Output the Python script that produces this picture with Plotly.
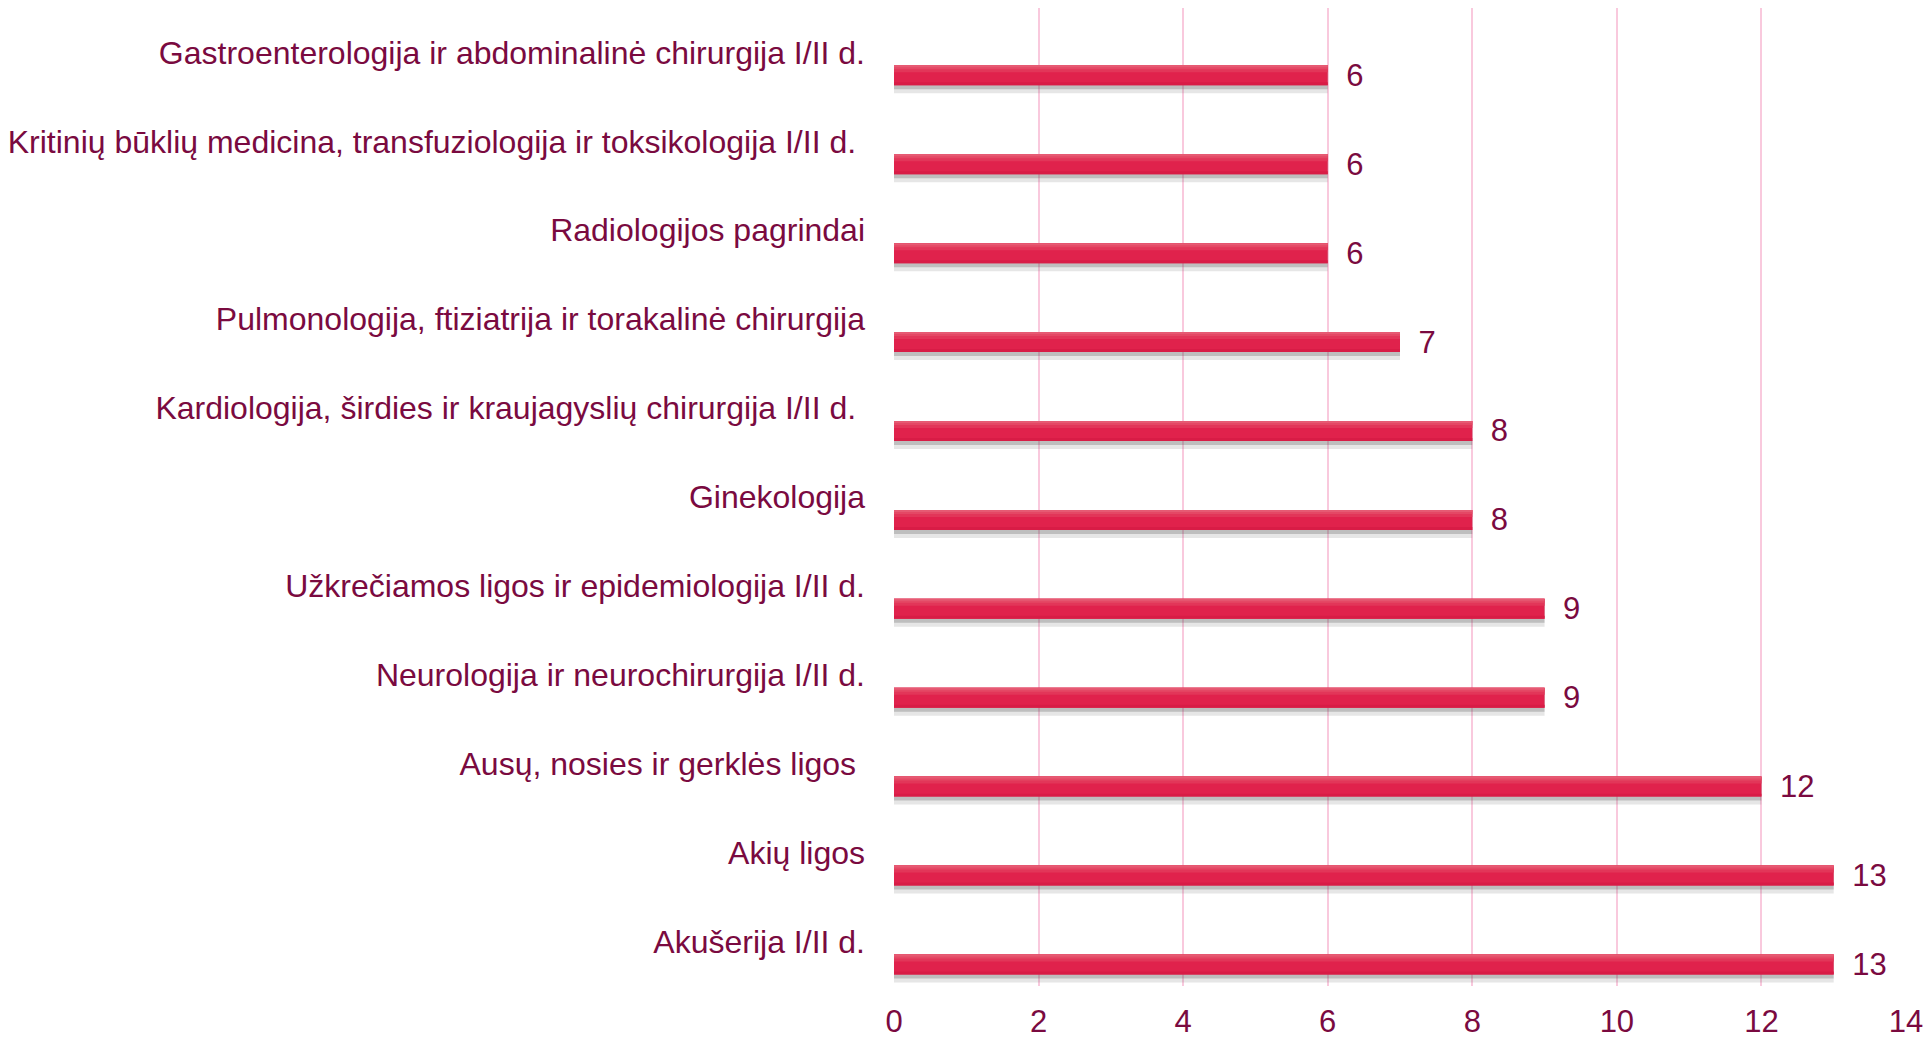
import plotly.graph_objects as go

categories = [
    "Gastroenterologija ir abdominalinė chirurgija I/II d.",
    "Kritinių būklių medicina, transfuziologija ir toksikologija I/II d.\u00a0",
    "Radiologijos pagrindai",
    "Pulmonologija, ftiziatrija ir torakalinė chirurgija",
    "Kardiologija, širdies ir kraujagyslių chirurgija I/II d.\u00a0",
    "Ginekologija",
    "Užkrečiamos ligos ir epidemiologija I/II d.",
    "Neurologija ir neurochirurgija I/II d.",
    "Ausų, nosies ir gerklės ligos\u00a0",
    "Akių ligos",
    "Akušerija I/II d.",
]
values = [6, 6, 6, 7, 8, 8, 9, 9, 12, 13, 13]
x_ticks = [0, 2, 4, 6, 8, 10, 12, 14]

TEXT = "#7a0a40"
BAR = "#e0224c"
GRID = "#f9c9dd"
FONT = "Liberation Sans, Arial, sans-serif"

pos = list(range(len(categories)))
PX = 1 / 89.0  # one pixel in band units

fig = go.Figure()
# soft shadow below bars (two layers)
fig.add_trace(go.Bar(
    x=values, y=pos, orientation="h",
    width=0.225 + 6 * PX, offset=0.145 + 2 * PX,
    marker=dict(color="rgba(90,90,90,0.15)", line=dict(width=0)),
    hoverinfo="skip", showlegend=False,
))
fig.add_trace(go.Bar(
    x=values, y=pos, orientation="h",
    width=0.225 + 3 * PX, offset=0.145 + 1 * PX,
    marker=dict(color="rgba(70,70,70,0.25)", line=dict(width=0)),
    hoverinfo="skip", showlegend=False,
))
# main bars
fig.add_trace(go.Bar(
    x=values, y=pos, orientation="h",
    width=0.225, offset=0.145,
    marker=dict(color=BAR, line=dict(width=0)),
    text=values, texttemplate="\u2002%{x}", textposition="outside",
    constraintext="none",
    textfont=dict(family=FONT, size=31, color=TEXT),
    cliponaxis=False, showlegend=False,
))
# gradient look: lighter strips at the top
for w, c in [(7 * PX, "#e23659"), (4 * PX, "#e44865"), (2 * PX, "#e65a73")]:
    fig.add_trace(go.Bar(
        x=values, y=pos, orientation="h",
        width=w, offset=0.145,
        marker=dict(color=c, line=dict(width=0)),
        hoverinfo="skip", showlegend=False,
    ))
# slightly darker bottom edge
fig.add_trace(go.Bar(
    x=values, y=pos, orientation="h",
    width=3 * PX, offset=0.145 + 0.225 - 3 * PX,
    marker=dict(color="#d81c46", line=dict(width=0)),
    hoverinfo="skip", showlegend=False,
))

fig.update_layout(
    width=1929, height=1038,
    margin=dict(l=894, r=23, t=8, b=52, autoexpand=False),
    paper_bgcolor="white", plot_bgcolor="white",
    barmode="overlay",
    font=dict(family=FONT, size=32, color=TEXT),
    xaxis=dict(
        range=[0, 14], tickvals=x_ticks, ticktext=[str(v) for v in x_ticks],
        showgrid=True, gridcolor=GRID, gridwidth=2,
        zeroline=False, showline=False, automargin=False,
        ticks="outside", ticklen=8, tickcolor="rgba(0,0,0,0)",
        tickfont=dict(family=FONT, size=31, color=TEXT),
    ),
    yaxis=dict(
        range=[len(categories) - 0.5, -0.5],
        tickvals=pos, ticktext=categories,
        showgrid=False, zeroline=False, showline=False, automargin=False,
        ticks="", ticklabelstandoff=28,
        tickfont=dict(family=FONT, size=32, color=TEXT),
    ),
)

fig.write_html(
    "out.html",
    config={"displayModeBar": False},
    post_script="document.body.style.margin='0px';",
)
